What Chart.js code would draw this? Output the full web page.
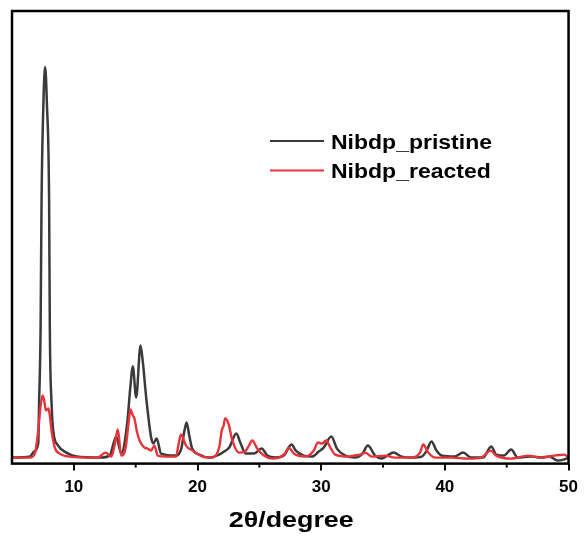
<!DOCTYPE html>
<html>
<head>
<meta charset="utf-8">
<script src="https://cdn.jsdelivr.net/npm/chart.js@4.4.1/dist/chart.umd.min.js"></script>
<style>
  html, body { margin: 0; padding: 0; background: #fff; }
</style>
</head>
<body>
<canvas id="xrd" width="585" height="537"></canvas>
<script>
// 2theta positions and intensities (arbitrary units)
const pristineX = [5.00, 6.45, 6.77, 7.12, 7.19, 7.31, 7.39, 7.54, 7.68, 7.82, 8.00, 8.06, 8.20, 8.33, 8.73, 9.40, 10.21,
  12.09, 12.89, 13.43, 13.83, 14.31, 14.56, 14.77, 15.04, 15.39, 15.59, 15.85, 16.25, 16.43, 16.70, 17.05,
  18.26, 18.69, 18.93, 19.12, 19.33, 19.57, 20.14, 20.94, 21.75, 22.15, 22.56, 23.14, 23.49, 23.90,
  24.57, 25.19, 25.64, 26.31, 26.98, 27.60, 27.95, 28.59, 29.26, 29.80, 30.20, 30.82, 31.27, 31.95,
  32.75, 33.34, 33.77, 34.36, 34.89, 35.35, 35.84, 36.51, 37.31, 38.12, 38.49, 38.92, 39.32, 39.73,
  40.80, 41.47, 42.14, 43.08, 43.75, 44.15, 44.77, 45.36, 45.90, 46.97, 47.78, 48.45, 49.11, 49.60, 50.00];
const pristineY = [6, 7, 12, 20, 60, 133, 263, 360, 396, 360, 263, 133, 60, 33, 18, 11, 7,
  6, 8, 27, 10, 40, 75, 97, 66, 118, 100, 66, 26, 20, 25, 10,
  8, 15, 32, 41, 28, 15, 9, 6, 9, 12, 16, 30, 20, 10,
  10, 15, 8, 6, 8, 19, 13, 8, 7, 12, 16, 27, 15, 8,
  6, 10, 18, 8, 5, 8, 11, 7, 6, 7, 12, 22, 13, 8,
  7, 11, 6, 6, 17, 9, 8, 14, 6, 7, 6, 7, 3, 4, 6];

const reactedX = [5.00, 6.45, 6.85, 7.12, 7.29, 7.47, 7.62, 7.74, 7.95, 8.06, 8.20, 8.46, 8.86, 9.67, 11.68,
  12.09, 12.57, 13.03, 13.29, 13.56, 13.83, 14.18, 14.42, 14.58, 14.77, 14.90, 15.10, 15.31, 15.71, 15.97,
  16.25, 16.51, 16.78, 17.46, 18.26, 18.45, 18.66, 19.07, 19.60, 20.40, 21.21, 21.75, 21.96, 22.11, 22.23,
  22.50, 22.82, 23.36, 23.84, 24.16, 24.43, 24.83, 25.37, 26.04, 26.58, 27.06, 27.38, 27.79, 28.73,
  29.40, 29.74, 30.06, 30.39, 30.74, 31.14, 32.21, 32.62, 33.18, 33.56, 34.09, 35.17, 35.97, 37.31,
  37.99, 38.25, 38.66, 39.19, 40.53, 41.88, 42.95, 43.70, 44.15, 45.36, 46.71, 47.78, 48.86, 49.66, 50.00];
const reactedY = [6, 6, 10, 33, 55, 68, 62, 53, 55, 48, 33, 16, 10, 7, 6,
  7, 11, 7, 18, 34, 8, 15, 40, 54, 48, 45, 32, 23, 16, 15,
  13, 18, 8, 7, 7, 18, 29, 18, 13, 7, 6, 16, 33, 38, 45,
  40, 23, 11, 12, 18, 23, 15, 8, 5, 6, 10, 16, 10, 7,
  13, 21, 20, 23, 16, 9, 7, 8, 9, 11, 7, 8, 6, 6,
  11, 19, 11, 6, 6, 5, 6, 13, 8, 5, 8, 6, 8, 9, 6];

const seriesNames = ["Nibdp_pristine", "Nibdp_reacted"];
const seriesColors = ["#3a3a3a", "#e8333b"];
const axisTitle = "2θ/degree";
const majorTicks = [10, 20, 30, 40, 50];
const minorTicks = [15, 25, 35, 45];

function toPoints(xs, ys) {
  return xs.map((x, i) => ({ x: x, y: ys[i] }));
}

// the source figure's text is set a little wide, so stretch it horizontally
function wideText(ctx, text, x, y, stretch, align) {
  ctx.save();
  ctx.translate(x, y);
  ctx.scale(stretch, 1);
  ctx.textAlign = align;
  ctx.fillText(text, 0, 0);
  ctx.restore();
}

const framePlugin = {
  id: "frame",
  afterDraw(chart) {
    const { ctx, chartArea: a, scales } = chart;
    ctx.save();
    ctx.strokeStyle = "#000";
    ctx.lineWidth = 2.5;
    ctx.strokeRect(a.left, a.top, a.right - a.left, a.bottom - a.top);
    // short minor ticks
    ctx.lineWidth = 2;
    minorTicks.forEach(v => {
      const x = scales.x.getPixelForValue(v);
      ctx.beginPath();
      ctx.moveTo(x, a.bottom);
      ctx.lineTo(x, a.bottom + 4);
      ctx.stroke();
    });
    // legend
    ctx.fillStyle = "#000";
    ctx.textBaseline = "alphabetic";
    ctx.font = "bold 20px 'Liberation Sans', Arial, sans-serif";
    seriesNames.forEach((name, i) => {
      const y = 141 + i * 29.5;
      ctx.strokeStyle = seriesColors[i];
      ctx.lineWidth = 2;
      ctx.beginPath();
      ctx.moveTo(270, y);
      ctx.lineTo(324, y);
      ctx.stroke();
      wideText(ctx, name, 331, y + 7.5, 1.15, "left");
    });
    // x axis title
    ctx.font = "bold 22px 'Liberation Sans', Arial, sans-serif";
    wideText(ctx, axisTitle, (a.left + a.right) / 2 + 1, 527, 1.22, "center");
    ctx.restore();
  }
};

new Chart(document.getElementById("xrd"), {
  type: "line",
  data: {
    datasets: [
      {
        label: seriesNames[0],
        data: toPoints(pristineX, pristineY),
        borderColor: seriesColors[0],
        borderWidth: 2.5,
        pointRadius: 0,
        cubicInterpolationMode: "monotone",
        order: 1,
      },
      {
        label: seriesNames[1],
        data: toPoints(reactedX, reactedY),
        borderColor: seriesColors[1],
        borderWidth: 2.4,
        pointRadius: 0,
        cubicInterpolationMode: "monotone",
        order: 0,
      },
    ],
  },
  options: {
    responsive: false,
    animation: false,
    layout: {
      padding: { left: 12, right: 11, top: 11, bottom: 32 },
    },
    scales: {
      x: {
        type: "linear",
        min: 5,
        max: 50,
        afterBuildTicks: scale => {
          scale.ticks = majorTicks.map(v => ({ value: v }));
        },
        grid: {
          drawOnChartArea: false,
          tickLength: 7,
          lineWidth: 2,
          tickColor: "#000",
        },
        border: { display: false },
        ticks: {
          color: "#000",
          padding: 7,
          maxRotation: 0,
          font: { family: "'Liberation Sans', Arial, sans-serif", size: 17, weight: "bold" },
        },
      },
      y: {
        display: false,
        min: 0,
        max: 452,
      },
    },
    plugins: {
      legend: { display: false },
      tooltip: { enabled: false },
    },
  },
  plugins: [framePlugin],
});
</script>
</body>
</html>
